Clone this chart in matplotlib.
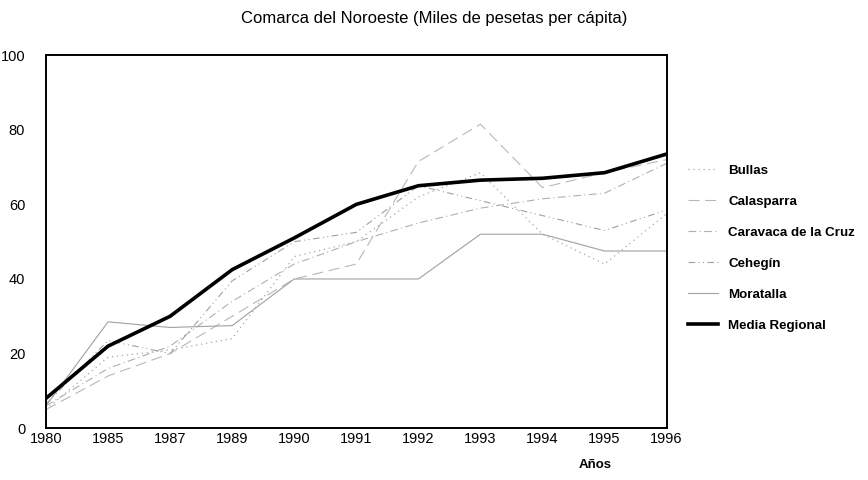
import matplotlib
matplotlib.use("Agg")
import matplotlib.pyplot as plt

plt.rcParams['font.family'] = ['Liberation Sans', 'DejaVu Sans']

years = ['1980', '1985', '1987', '1989', '1990', '1991', '1992', '1993', '1994', '1995', '1996']
bullas = [5, 19, 21, 24, 46, 50, 62, 68.5, 52, 44, 57.5]
calasparra = [5, 14, 20, 30, 40, 44, 71.5, 81.5, 64.5, 68.5, 72]
caravaca = [6, 16, 22, 34, 44, 50, 55, 59, 61.5, 63, 71]
cehegin = [6.5, 23.5, 20, 39.5, 50, 52.5, 65, 61, 57, 53, 58.5]
moratalla = [6, 28.5, 27, 27.5, 40, 40, 40, 52, 52, 47.5, 47.5]
media = [8, 22, 30, 42.5, 51, 60, 65, 66.5, 67, 68.5, 73.5]

title = 'Comarca del Noroeste (Miles de pesetas per cápita)'
xlabel = 'Años'
yticks = [0, 20, 40, 60, 80, 100]

fig = plt.figure(figsize=(8.68, 4.8), dpi=100)
ax = fig.add_axes([0.053, 0.108, 0.715, 0.777])
x = list(range(len(years)))

ax.plot(x, bullas, color='#a8a8a8', lw=0.9, ls=(0, (1, 3)), label='Bullas')
ax.plot(x, calasparra, color='#b8b8b8', lw=0.8, ls=(0, (10, 5)), label='Calasparra')
ax.plot(x, caravaca, color='#b0b0b0', lw=0.8, ls=(0, (7, 3, 1, 3)), label='Caravaca de la Cruz')
ax.plot(x, cehegin, color='#a0a0a0', lw=0.8, ls=(0, (6, 3, 1, 3, 1, 3)), label='Cehegín')
ax.plot(x, moratalla, color='#a0a0a0', lw=0.8, ls='-', label='Moratalla')
ax.plot(x, media, color='black', lw=2.6, ls='-', label='Media Regional')

ax.set_xlim(0, len(years) - 1)
ax.set_ylim(0, 100)
ax.set_xticks(x)
ax.set_xticklabels(years)
ax.set_yticks(yticks)
ax.tick_params(length=0, labelsize=10.5, colors='black')
ax.tick_params(axis='y', pad=15)
ax.tick_params(axis='x', pad=3)
for s in ax.spines.values():
    s.set_linewidth(1.4)
    s.set_color('black')

ax.text(0.885, -0.1, xlabel, transform=ax.transAxes, fontsize=9.5,
        ha='center', va='center', fontweight='bold')
fig.text(0.5, 0.962, title, ha='center', va='center', fontsize=12)

leg = fig.legend(loc='upper left', bbox_to_anchor=(0.779, 0.682), frameon=False,
                 fontsize=9.6, handlelength=2.2, labelspacing=1.4, handletextpad=0.8)
for t in leg.get_texts():
    t.set_fontweight('bold')

fig.savefig('out.png', dpi=100)
